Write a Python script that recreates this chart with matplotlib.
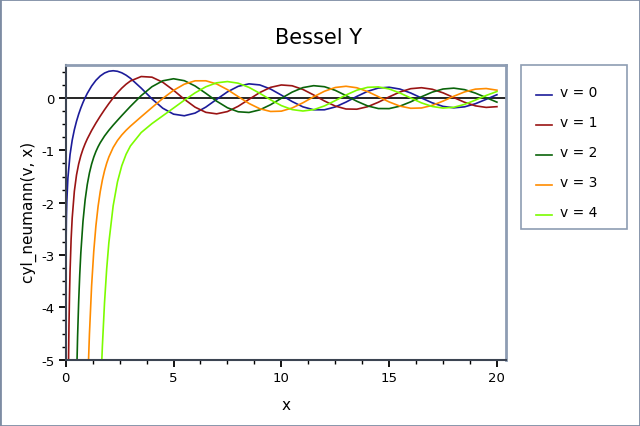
import numpy as np
import matplotlib
matplotlib.use("Agg")
import matplotlib.pyplot as plt
from matplotlib.patches import Rectangle
from matplotlib.lines import Line2D
from matplotlib.legend_handler import HandlerLine2D
from matplotlib.ticker import MultipleLocator

plt.rcParams["axes.unicode_minus"] = False

# --- values ---

# steep start of each curve (x < 3), sampled more densely
head_x0 = [0.0004, 0.0005, 0.001, 0.003, 0.01, 0.03, 0.05, 0.1, 0.2, 0.3, 0.4, 0.5,
           0.6, 0.7, 0.8, 0.9, 1.0, 1.2, 1.4, 1.6, 1.8, 2.0, 2.2, 2.4, 2.6, 2.8]
head_y0 = [-5.05, -4.91, -4.47, -3.77, -3.006, -2.306, -1.979, -1.534, -1.081, -0.807,
           -0.606, -0.4445, -0.3085, -0.1907, -0.0868, 0.0056, 0.0883, 0.2281, 0.3379,
           0.4204, 0.4774, 0.5104, 0.5208, 0.5104, 0.4813, 0.4359]

head_x1 = [0.125, 0.15, 0.175, 0.2, 0.25, 0.3, 0.4, 0.5, 0.6, 0.7, 0.8, 0.9, 1.0,
           1.2, 1.4, 1.6, 1.8, 2.0, 2.2, 2.4, 2.6, 2.8]
head_y1 = [-5.20, -4.360, -3.765, -3.324, -2.699, -2.293, -1.781, -1.4715, -1.2604,
           -1.1032, -0.9781, -0.8731, -0.7812, -0.6211, -0.4791, -0.3476, -0.2237,
           -0.1070, 0.0015, 0.1005, 0.1884, 0.2635]

head_x2 = [0.5, 0.55, 0.6, 0.65, 0.7, 0.8, 0.9, 1.0, 1.1, 1.2, 1.3, 1.4, 1.5, 1.6,
           1.8, 2.0, 2.2, 2.4, 2.6, 2.8]
head_y2 = [-5.442, -4.558, -3.893, -3.374, -2.961, -2.359, -1.946, -1.651, -1.431,
           -1.263, -1.130, -1.022, -0.932, -0.855, -0.726, -0.617, -0.519, -0.427,
           -0.336, -0.248]

head_x3 = [1.0, 1.05, 1.1, 1.2, 1.3, 1.4, 1.5, 1.6, 1.7, 1.8, 1.9, 2.0, 2.2, 2.4, 2.6, 2.8]
head_y3 = [-5.822, -5.101, -4.507, -3.590, -2.930, -2.442, -2.073, -1.790, -1.567,
           -1.390, -1.246, -1.128, -0.946, -0.812, -0.706, -0.617]

head_x4 = [1.6, 1.65, 1.7, 1.8, 1.9, 2.0, 2.2, 2.4, 2.6, 2.8]
head_y4 = [-5.856, -5.256, -4.743, -3.906, -3.264, -2.766, -2.060, -1.602, -1.293, -1.075]

# oscillating part, x = 3.0 ... 20.0 in steps of 0.5
tail_x = np.linspace(3.0, 20.0, 35)
tail_y0 = [0.3769, 0.1890, -0.0169, -0.1947, -0.3085, -0.3395, -0.2882, -0.1733, -0.0259,
           0.1173, 0.2235, 0.2702, 0.2499, 0.1712, 0.0557, -0.0675, -0.1688, -0.2252,
           -0.2252, -0.1712, -0.0782, 0.0301, 0.1272, 0.1903, 0.2055, 0.1706, 0.0958,
           0.0002, -0.0926, -0.1604, -0.1875, -0.1687, -0.1095, -0.0255, 0.0626]
tail_y1 = [0.3247, 0.4102, 0.3979, 0.3010, 0.1479, -0.0237, -0.1751, -0.2741, -0.3027,
           -0.2591, -0.1581, -0.0262, 0.1043, 0.2032, 0.2490, 0.2337, 0.1637, 0.0579,
           -0.0571, -0.1538, -0.2101, -0.2140, -0.1666, -0.0810, 0.0211, 0.1148, 0.1780,
           0.1965, 0.1672, 0.0986, 0.0082, -0.0818, -0.1496, -0.1796, -0.1655]
tail_y2 = [-0.1604, 0.0454, 0.2159, 0.3285, 0.3676, 0.3308, 0.2298, 0.0889, -0.0605,
           -0.1864, -0.2630, -0.2764, -0.2268, -0.1284, -0.0059, 0.1121, 0.1986, 0.2353,
           0.2157, 0.1466, 0.0459, -0.0618, -0.1510, -0.2015, -0.2027, -0.1558, -0.0736,
           0.0236, 0.1123, 0.1717, 0.1885, 0.1598, 0.0938, 0.0070, -0.0792]
tail_y3 = [-0.5385, -0.3583, -0.1821, -0.0090, 0.1462, 0.2643, 0.3283, 0.3288, 0.2681,
           0.1597, 0.0265, -0.1039, -0.2051, -0.2573, -0.2514, -0.1910, -0.0915, 0.0239,
           0.1290, 0.2007, 0.2242, 0.1957, 0.1235, 0.0255, -0.0751, -0.1550, -0.1964,
           -0.1907, -0.1408, -0.0593, 0.0337, 0.1163, 0.1693, 0.1810, 0.1497]
tail_y4 = [-0.9168, -0.6597, -0.4889, -0.3405, -0.1922, -0.0425, 0.0984, 0.2146, 0.2903,
           0.3142, 0.2829, 0.2030, 0.0900, -0.0341, -0.1450, -0.2212, -0.2485, -0.2228,
           -0.1512, -0.0502, 0.0576, 0.1488, 0.2039, 0.2120, 0.1726, 0.0958, -0.0001,
           -0.0930, -0.1620, -0.1920, -0.1772, -0.1221, -0.0403, 0.0487, 0.1241]

labels = ["v = 0", "v = 1", "v = 2", "v = 3", "v = 4"]
colors = ["#1c1c9a", "#9a1414", "#0a640a", "#ff8c00", "#7cfc00"]

heads = [(head_x0, head_y0), (head_x1, head_y1), (head_x2, head_y2),
         (head_x3, head_y3), (head_x4, head_y4)]
tails = [tail_y0, tail_y1, tail_y2, tail_y3, tail_y4]


# legend sample line sits on the text baseline, not in the middle
class BaselineLine(HandlerLine2D):
    def create_artists(self, legend, orig_handle, xdescent, ydescent,
                       width, height, fontsize, trans):
        arts = super().create_artists(legend, orig_handle, xdescent, ydescent,
                                      width, height, fontsize, trans)
        for a in arts:
            if isinstance(a, Line2D):
                a.set_ydata(np.asarray(a.get_ydata()) - 0.4 * height)
        return arts


# --- figure ---
fig = plt.figure(figsize=(6.4, 4.27), dpi=100)
ax = fig.add_axes([0.1027, 0.1553, 0.6879, 0.6908])

ax.axhline(0, color="black", lw=1.2, zorder=1.5)

handles = []
for (hx, hy), ty, col, lab in zip(heads, tails, colors, labels):
    xs = np.concatenate([hx, tail_x])
    ys = np.concatenate([hy, ty])
    line, = ax.plot(xs, ys, color=col, lw=1.2, label=lab, zorder=2)
    handles.append(line)

ax.set_xlim(0, 20.42)
ax.set_ylim(-5, 0.636)
ax.set_xticks([0, 5, 10, 15, 20])
ax.set_yticks([0, -1, -2, -3, -4, -5])
ax.xaxis.set_minor_locator(MultipleLocator(1.25))
ax.yaxis.set_minor_locator(MultipleLocator(0.25))
ax.tick_params(which="major", direction="out", length=5, width=1.3, labelsize=9.5, pad=3)
ax.tick_params(which="minor", direction="out", length=3, width=1.0)

for side in ["left", "bottom"]:
    ax.spines[side].set_color("#3c4452")
    ax.spines[side].set_linewidth(1.5)
for side in ["top", "right"]:
    ax.spines[side].set_color("#8e9db3")
    ax.spines[side].set_linewidth(2)

ax.set_xlabel("x", fontsize=11)
ax.xaxis.set_label_coords(0.5, -0.125)
ax.set_ylabel("cyl_neumann(v, x)", fontsize=11)
ax.yaxis.set_label_coords(-0.066, 0.504)

fig.text(0.497, 1 - 38 / 427, "Bessel Y", ha="center", va="center", fontsize=15)

# legend box
fig.add_artist(Rectangle((521 / 640, 1 - 230 / 427), 106 / 640, 164 / 427,
                         transform=fig.transFigure, fill=False,
                         edgecolor="#8e9db3", lw=1.2))
fig.legend(handles, labels, loc="upper left", bbox_to_anchor=(0.838, 0.799),
           frameon=False, fontsize=10, handlelength=1.1, handletextpad=0.6,
           labelspacing=1.15, borderpad=0, borderaxespad=0,
           handler_map={Line2D: BaselineLine()})

# outer border
fig.add_artist(Rectangle((0, 0), 1, 1, transform=fig.transFigure, fill=False,
                         edgecolor="#7d8ca3", lw=2))

fig.savefig("out.png", dpi=100)
